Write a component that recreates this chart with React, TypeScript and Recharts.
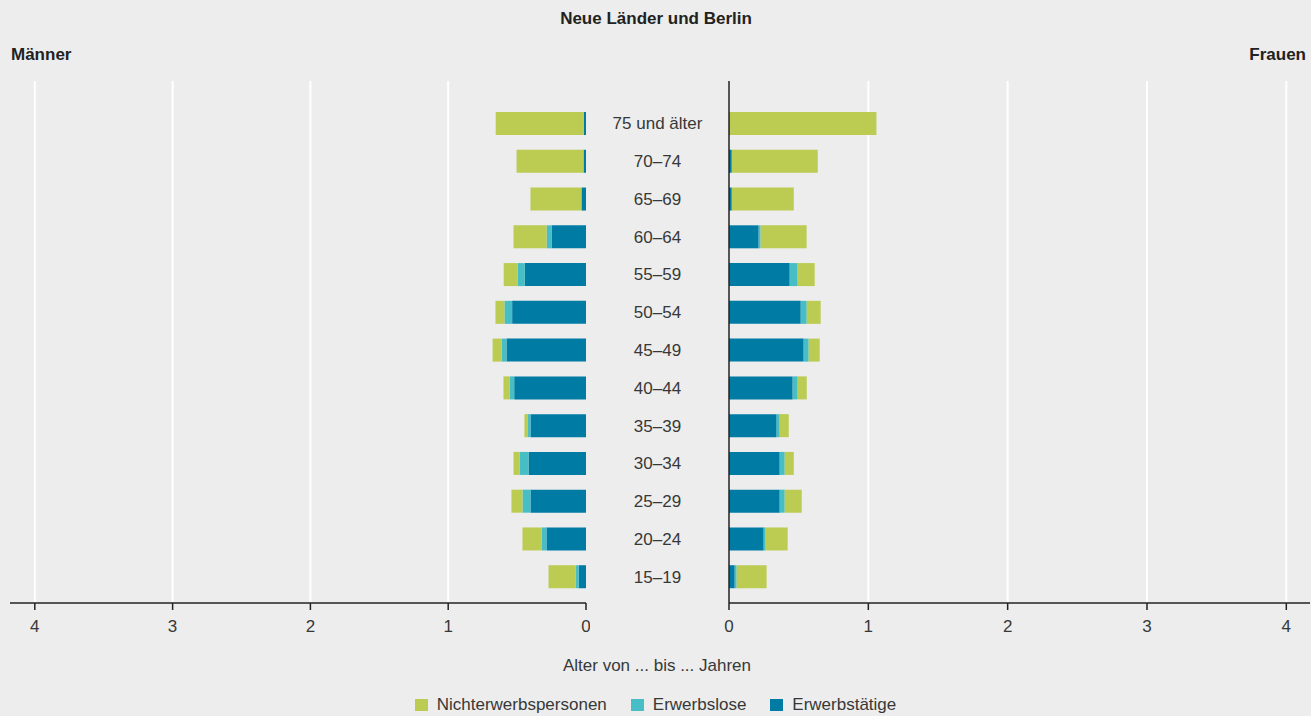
import React from 'react';
import { BarChart, Bar, XAxis, YAxis, CartesianGrid } from 'recharts';

const ageGroups = ['75 und älter', '70–74', '65–69', '60–64', '55–59', '50–54', '45–49', '40–44', '35–39', '30–34', '25–29', '20–24', '15–19'];

// Männer (Millionen)
const menEmployed = [0.015, 0.018, 0.033, 0.25, 0.444, 0.536, 0.577, 0.521, 0.403, 0.417, 0.403, 0.287, 0.054];
const menUnemployed = [0, 0, 0, 0.036, 0.053, 0.056, 0.036, 0.034, 0.022, 0.065, 0.058, 0.036, 0.022];
const menInactive = [0.64, 0.486, 0.37, 0.24, 0.1, 0.065, 0.065, 0.044, 0.022, 0.044, 0.08, 0.138, 0.196];

// Frauen (Millionen)
const womenEmployed = [0.005, 0.02, 0.02, 0.213, 0.436, 0.515, 0.536, 0.457, 0.342, 0.364, 0.364, 0.249, 0.041];
const womenUnemployed = [0, 0, 0, 0.014, 0.057, 0.043, 0.036, 0.036, 0.022, 0.036, 0.036, 0.014, 0.014];
const womenInactive = [1.053, 0.617, 0.445, 0.33, 0.122, 0.1, 0.079, 0.065, 0.065, 0.065, 0.122, 0.158, 0.215];

const xTicks = [0, 1, 2, 3, 4];
const gridValues = [1, 2, 3, 4];
const seriesNames = ['Nichterwerbspersonen', 'Erwerbslose', 'Erwerbstätige'];
const seriesColors = ['#bccb52', '#47bec6', '#007ba4'];

const chartTitle = 'Neue Länder und Berlin';
const leftTitle = 'Männer';
const rightTitle = 'Frauen';
const axisTitle = 'Alter von ... bis ... Jahren';

const menData = ageGroups.map((age, i) => ({
  age,
  employed: menEmployed[i],
  unemployed: menUnemployed[i],
  inactive: menInactive[i],
}));
const womenData = ageGroups.map((age, i) => ({
  age,
  employed: womenEmployed[i],
  unemployed: womenUnemployed[i],
  inactive: womenInactive[i],
}));

const BG = '#ecedec';
const FONT = '"Liberation Sans", Arial, Helvetica, sans-serif';
const TEXT = '#383838';

const CenterTick = (props: any) => {
  const { y, payload } = props;
  return (
    <text x={71.5} y={y} textAnchor="middle" dominantBaseline="central" fontSize={17} fill={TEXT} fontFamily={FONT}>
      {payload.value}
    </text>
  );
};

export default function App() {
  const tickStyle = { fontSize: 17, fill: TEXT, fontFamily: FONT };
  return (
    <div style={{ position: 'absolute', left: 0, top: 0, width: 1311, height: 716, background: BG, overflow: 'hidden', fontFamily: FONT }}>
      <div style={{ position: 'absolute', left: 0, top: 0 }}>
        <BarChart width={590} height={650} data={menData} layout="vertical" margin={{ top: 81, right: 4, bottom: 7, left: 10 }} barSize={23}>
          <CartesianGrid horizontal={false} verticalValues={gridValues} stroke="#ffffff" strokeWidth={2} />
          <XAxis type="number" domain={[0, 4.18]} reversed ticks={xTicks} interval={0} tickSize={7} tickMargin={10} height={40}
            axisLine={{ stroke: '#222', strokeWidth: 1.5 }} tickLine={{ stroke: '#222', strokeWidth: 1.5 }} tick={tickStyle} allowDataOverflow />
          <YAxis type="category" dataKey="age" orientation="right" width={0} tick={false} tickLine={false}
            axisLine={{ stroke: '#222', strokeWidth: 1.5 }} padding={{ top: 24, bottom: 7 }} />
          <Bar dataKey="employed" stackId="a" fill={seriesColors[2]} isAnimationActive={false} />
          <Bar dataKey="unemployed" stackId="a" fill={seriesColors[1]} isAnimationActive={false} />
          <Bar dataKey="inactive" stackId="a" fill={seriesColors[0]} isAnimationActive={false} />
        </BarChart>
      </div>
      <div style={{ position: 'absolute', left: 586, top: 0 }}>
        <BarChart width={725} height={650} data={womenData} layout="vertical" margin={{ top: 81, right: 1, bottom: 7, left: 0 }} barSize={23}>
          <CartesianGrid horizontal={false} verticalValues={gridValues} stroke="#ffffff" strokeWidth={2} />
          <XAxis type="number" domain={[0, 4.17]} ticks={xTicks} interval={0} tickSize={7} tickMargin={10} height={40}
            axisLine={{ stroke: '#222', strokeWidth: 1.5 }} tickLine={{ stroke: '#222', strokeWidth: 1.5 }} tick={tickStyle} allowDataOverflow />
          <YAxis type="category" dataKey="age" orientation="left" width={143} tick={<CenterTick />} tickLine={false}
            axisLine={{ stroke: '#222', strokeWidth: 1.5 }} padding={{ top: 24, bottom: 7 }} interval={0} />
          <Bar dataKey="employed" stackId="a" fill={seriesColors[2]} isAnimationActive={false} />
          <Bar dataKey="unemployed" stackId="a" fill={seriesColors[1]} isAnimationActive={false} />
          <Bar dataKey="inactive" stackId="a" fill={seriesColors[0]} isAnimationActive={false} />
        </BarChart>
      </div>
      <svg width={1311} height={716} style={{ position: 'absolute', left: 0, top: 0, pointerEvents: 'none' }}>
        <text x={656} y={24} textAnchor="middle" fontSize={17} fontWeight="bold" fill="#222" fontFamily={FONT}>{chartTitle}</text>
        <text x={11} y={60} textAnchor="start" fontSize={17} fontWeight="bold" fill="#222" fontFamily={FONT}>{leftTitle}</text>
        <text x={1306} y={60} textAnchor="end" fontSize={17} fontWeight="bold" fill="#222" fontFamily={FONT}>{rightTitle}</text>
        <text x={657} y={671} textAnchor="middle" fontSize={17} fill={TEXT} fontFamily={FONT}>{axisTitle}</text>
      </svg>
      <div style={{ position: 'absolute', left: 0, top: 694, width: 1311, display: 'flex', justifyContent: 'center', gap: 24, fontSize: 17, color: TEXT, lineHeight: '22px' }}>
        {seriesNames.map((name, i) => (
          <div key={name} style={{ display: 'flex', alignItems: 'center' }}>
            <span style={{ display: 'inline-block', width: 13, height: 12, background: seriesColors[i], marginRight: 9 }} />
            <span>{name}</span>
          </div>
        ))}
      </div>
    </div>
  );
}
